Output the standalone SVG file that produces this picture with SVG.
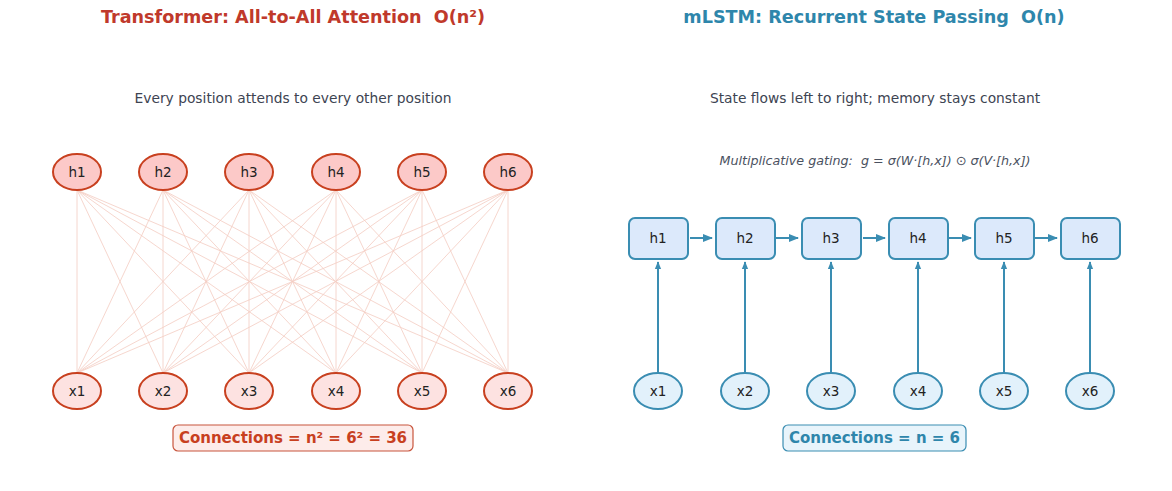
<svg xmlns="http://www.w3.org/2000/svg" width="1172" height="491" viewBox="0 0 1172 491">
<defs>
<style>
text{font-family:"DejaVu Sans",sans-serif;text-anchor:middle;dominant-baseline:central;white-space:pre}
.t1{font-size:17.6px;font-weight:bold;fill:#c0392b}
.t2{font-size:17.6px;font-weight:bold;fill:#2e86ab}
.sub{font-size:13.8px;fill:#3d4452}
.gate{font-size:12.7px;font-style:italic;fill:#4a5160}
.lbl{font-size:13.5px;fill:#222}
.hT{fill:#fcc9c8;stroke:#c8401f;stroke-width:2}
.xT{fill:#fde2e1;stroke:#c8401f;stroke-width:2}
.hM{fill:#dce9fb;stroke:#3a8db2;stroke-width:2}
.xM{fill:#e2f1fb;stroke:#3a8db2;stroke-width:2}
.att{stroke:#f0b7a8;stroke-width:0.8;opacity:0.7}
.rec{stroke:#3a8db2;stroke-width:2;fill:none}
.cT{fill:#fdecea;stroke:#c8553d;stroke-width:1.2}
.cM{fill:#e8f4fb;stroke:#3a8db2;stroke-width:1.2}
.ctT{font-size:15px;font-weight:bold;fill:#c8401f}
.ctM{font-size:15px;font-weight:bold;fill:#2e86ab}
</style>
<marker id="ah" viewBox="0 0 10 10" refX="9" refY="5" markerWidth="5" markerHeight="5" orient="auto" markerUnits="strokeWidth">
<path d="M0,1 L10,5 L0,9 z" fill="#3a8db2"/>
</marker>
<marker id="av" viewBox="0 0 10 10" refX="9" refY="5" markerWidth="4" markerHeight="4" orient="auto" markerUnits="strokeWidth">
<path d="M0,1 L10,5 L0,9 z" fill="#3a8db2"/>
</marker>
</defs>
<rect width="1172" height="491" fill="#fff"/>
<text class="t1" x="293" y="17">Transformer: All-to-All Attention  O(n²)</text>
<text class="t2" x="874" y="17">mLSTM: Recurrent State Passing  O(n)</text>
<text class="sub" x="293" y="98">Every position attends to every other position</text>
<text class="sub" x="875" y="98">State flows left to right; memory stays constant</text>
<text class="gate" x="875" y="160">Multiplicative gating:  g = σ(W·[h,x]) ⊙ σ(V·[h,x])</text>
<g id="connectors">
<g id="attention">
<path class="att" d="M77,190L77,373M77,190L163,373M77,190L249,373M77,190L336,373M77,190L422,373M77,190L508,373
M163,190L77,373M163,190L163,373M163,190L249,373M163,190L336,373M163,190L422,373M163,190L508,373
M249,190L77,373M249,190L163,373M249,190L249,373M249,190L336,373M249,190L422,373M249,190L508,373
M336,190L77,373M336,190L163,373M336,190L249,373M336,190L336,373M336,190L422,373M336,190L508,373
M422,190L77,373M422,190L163,373M422,190L249,373M422,190L336,373M422,190L422,373M422,190L508,373
M508,190L77,373M508,190L163,373M508,190L249,373M508,190L336,373M508,190L422,373M508,190L508,373"/>
</g>
<g id="recurrent">
<path class="rec" marker-end="url(#ah)" d="M690,238L712,238"/>
<path class="rec" marker-end="url(#ah)" d="M776,238L798,238"/>
<path class="rec" marker-end="url(#ah)" d="M863,238L885,238"/>
<path class="rec" marker-end="url(#ah)" d="M949,238L971,238"/>
<path class="rec" marker-end="url(#ah)" d="M1035,238L1057,238"/>
<path class="rec" marker-end="url(#av)" d="M658,372L658,262"/>
<path class="rec" marker-end="url(#av)" d="M745,372L745,262"/>
<path class="rec" marker-end="url(#av)" d="M831,372L831,262"/>
<path class="rec" marker-end="url(#av)" d="M918,372L918,262"/>
<path class="rec" marker-end="url(#av)" d="M1004,372L1004,262"/>
<path class="rec" marker-end="url(#av)" d="M1090,372L1090,262"/>
</g>
</g>
<g id="tf-h1"><ellipse class="hT" cx="77" cy="172" rx="24" ry="18"/><text class="lbl" x="77" y="172">h1</text></g>
<g id="tf-h2"><ellipse class="hT" cx="163" cy="172" rx="24" ry="18"/><text class="lbl" x="163" y="172">h2</text></g>
<g id="tf-h3"><ellipse class="hT" cx="249" cy="172" rx="24" ry="18"/><text class="lbl" x="249" y="172">h3</text></g>
<g id="tf-h4"><ellipse class="hT" cx="336" cy="172" rx="24" ry="18"/><text class="lbl" x="336" y="172">h4</text></g>
<g id="tf-h5"><ellipse class="hT" cx="422" cy="172" rx="24" ry="18"/><text class="lbl" x="422" y="172">h5</text></g>
<g id="tf-h6"><ellipse class="hT" cx="508" cy="172" rx="24" ry="18"/><text class="lbl" x="508" y="172">h6</text></g>
<g id="tf-x1"><ellipse class="xT" cx="77" cy="391" rx="24" ry="18"/><text class="lbl" x="77" y="391">x1</text></g>
<g id="tf-x2"><ellipse class="xT" cx="163" cy="391" rx="24" ry="18"/><text class="lbl" x="163" y="391">x2</text></g>
<g id="tf-x3"><ellipse class="xT" cx="249" cy="391" rx="24" ry="18"/><text class="lbl" x="249" y="391">x3</text></g>
<g id="tf-x4"><ellipse class="xT" cx="336" cy="391" rx="24" ry="18"/><text class="lbl" x="336" y="391">x4</text></g>
<g id="tf-x5"><ellipse class="xT" cx="422" cy="391" rx="24" ry="18"/><text class="lbl" x="422" y="391">x5</text></g>
<g id="tf-x6"><ellipse class="xT" cx="508" cy="391" rx="24" ry="18"/><text class="lbl" x="508" y="391">x6</text></g>
<g id="m-h1"><rect class="hM" x="629" y="218" width="59" height="41" rx="6"/><text class="lbl" x="658" y="238">h1</text></g>
<g id="m-h2"><rect class="hM" x="716" y="218" width="59" height="41" rx="6"/><text class="lbl" x="745" y="238">h2</text></g>
<g id="m-h3"><rect class="hM" x="802" y="218" width="59" height="41" rx="6"/><text class="lbl" x="831" y="238">h3</text></g>
<g id="m-h4"><rect class="hM" x="889" y="218" width="59" height="41" rx="6"/><text class="lbl" x="918" y="238">h4</text></g>
<g id="m-h5"><rect class="hM" x="975" y="218" width="59" height="41" rx="6"/><text class="lbl" x="1004" y="238">h5</text></g>
<g id="m-h6"><rect class="hM" x="1061" y="218" width="59" height="41" rx="6"/><text class="lbl" x="1090" y="238">h6</text></g>
<g id="m-x1"><ellipse class="xM" cx="658" cy="391" rx="24" ry="18"/><text class="lbl" x="658" y="391">x1</text></g>
<g id="m-x2"><ellipse class="xM" cx="745" cy="391" rx="24" ry="18"/><text class="lbl" x="745" y="391">x2</text></g>
<g id="m-x3"><ellipse class="xM" cx="831" cy="391" rx="24" ry="18"/><text class="lbl" x="831" y="391">x3</text></g>
<g id="m-x4"><ellipse class="xM" cx="918" cy="391" rx="24" ry="18"/><text class="lbl" x="918" y="391">x4</text></g>
<g id="m-x5"><ellipse class="xM" cx="1004" cy="391" rx="24" ry="18"/><text class="lbl" x="1004" y="391">x5</text></g>
<g id="m-x6"><ellipse class="xM" cx="1090" cy="391" rx="24" ry="18"/><text class="lbl" x="1090" y="391">x6</text></g>
<g id="tf-count"><rect class="cT" x="173" y="425" width="240" height="26" rx="5"/><text class="ctT" x="293" y="438">Connections = n² = 6² = 36</text></g>
<g id="m-count"><rect class="cM" x="783" y="425" width="183" height="26" rx="5"/><text class="ctM" x="874.500" y="438">Connections = n = 6</text></g>
</svg>
